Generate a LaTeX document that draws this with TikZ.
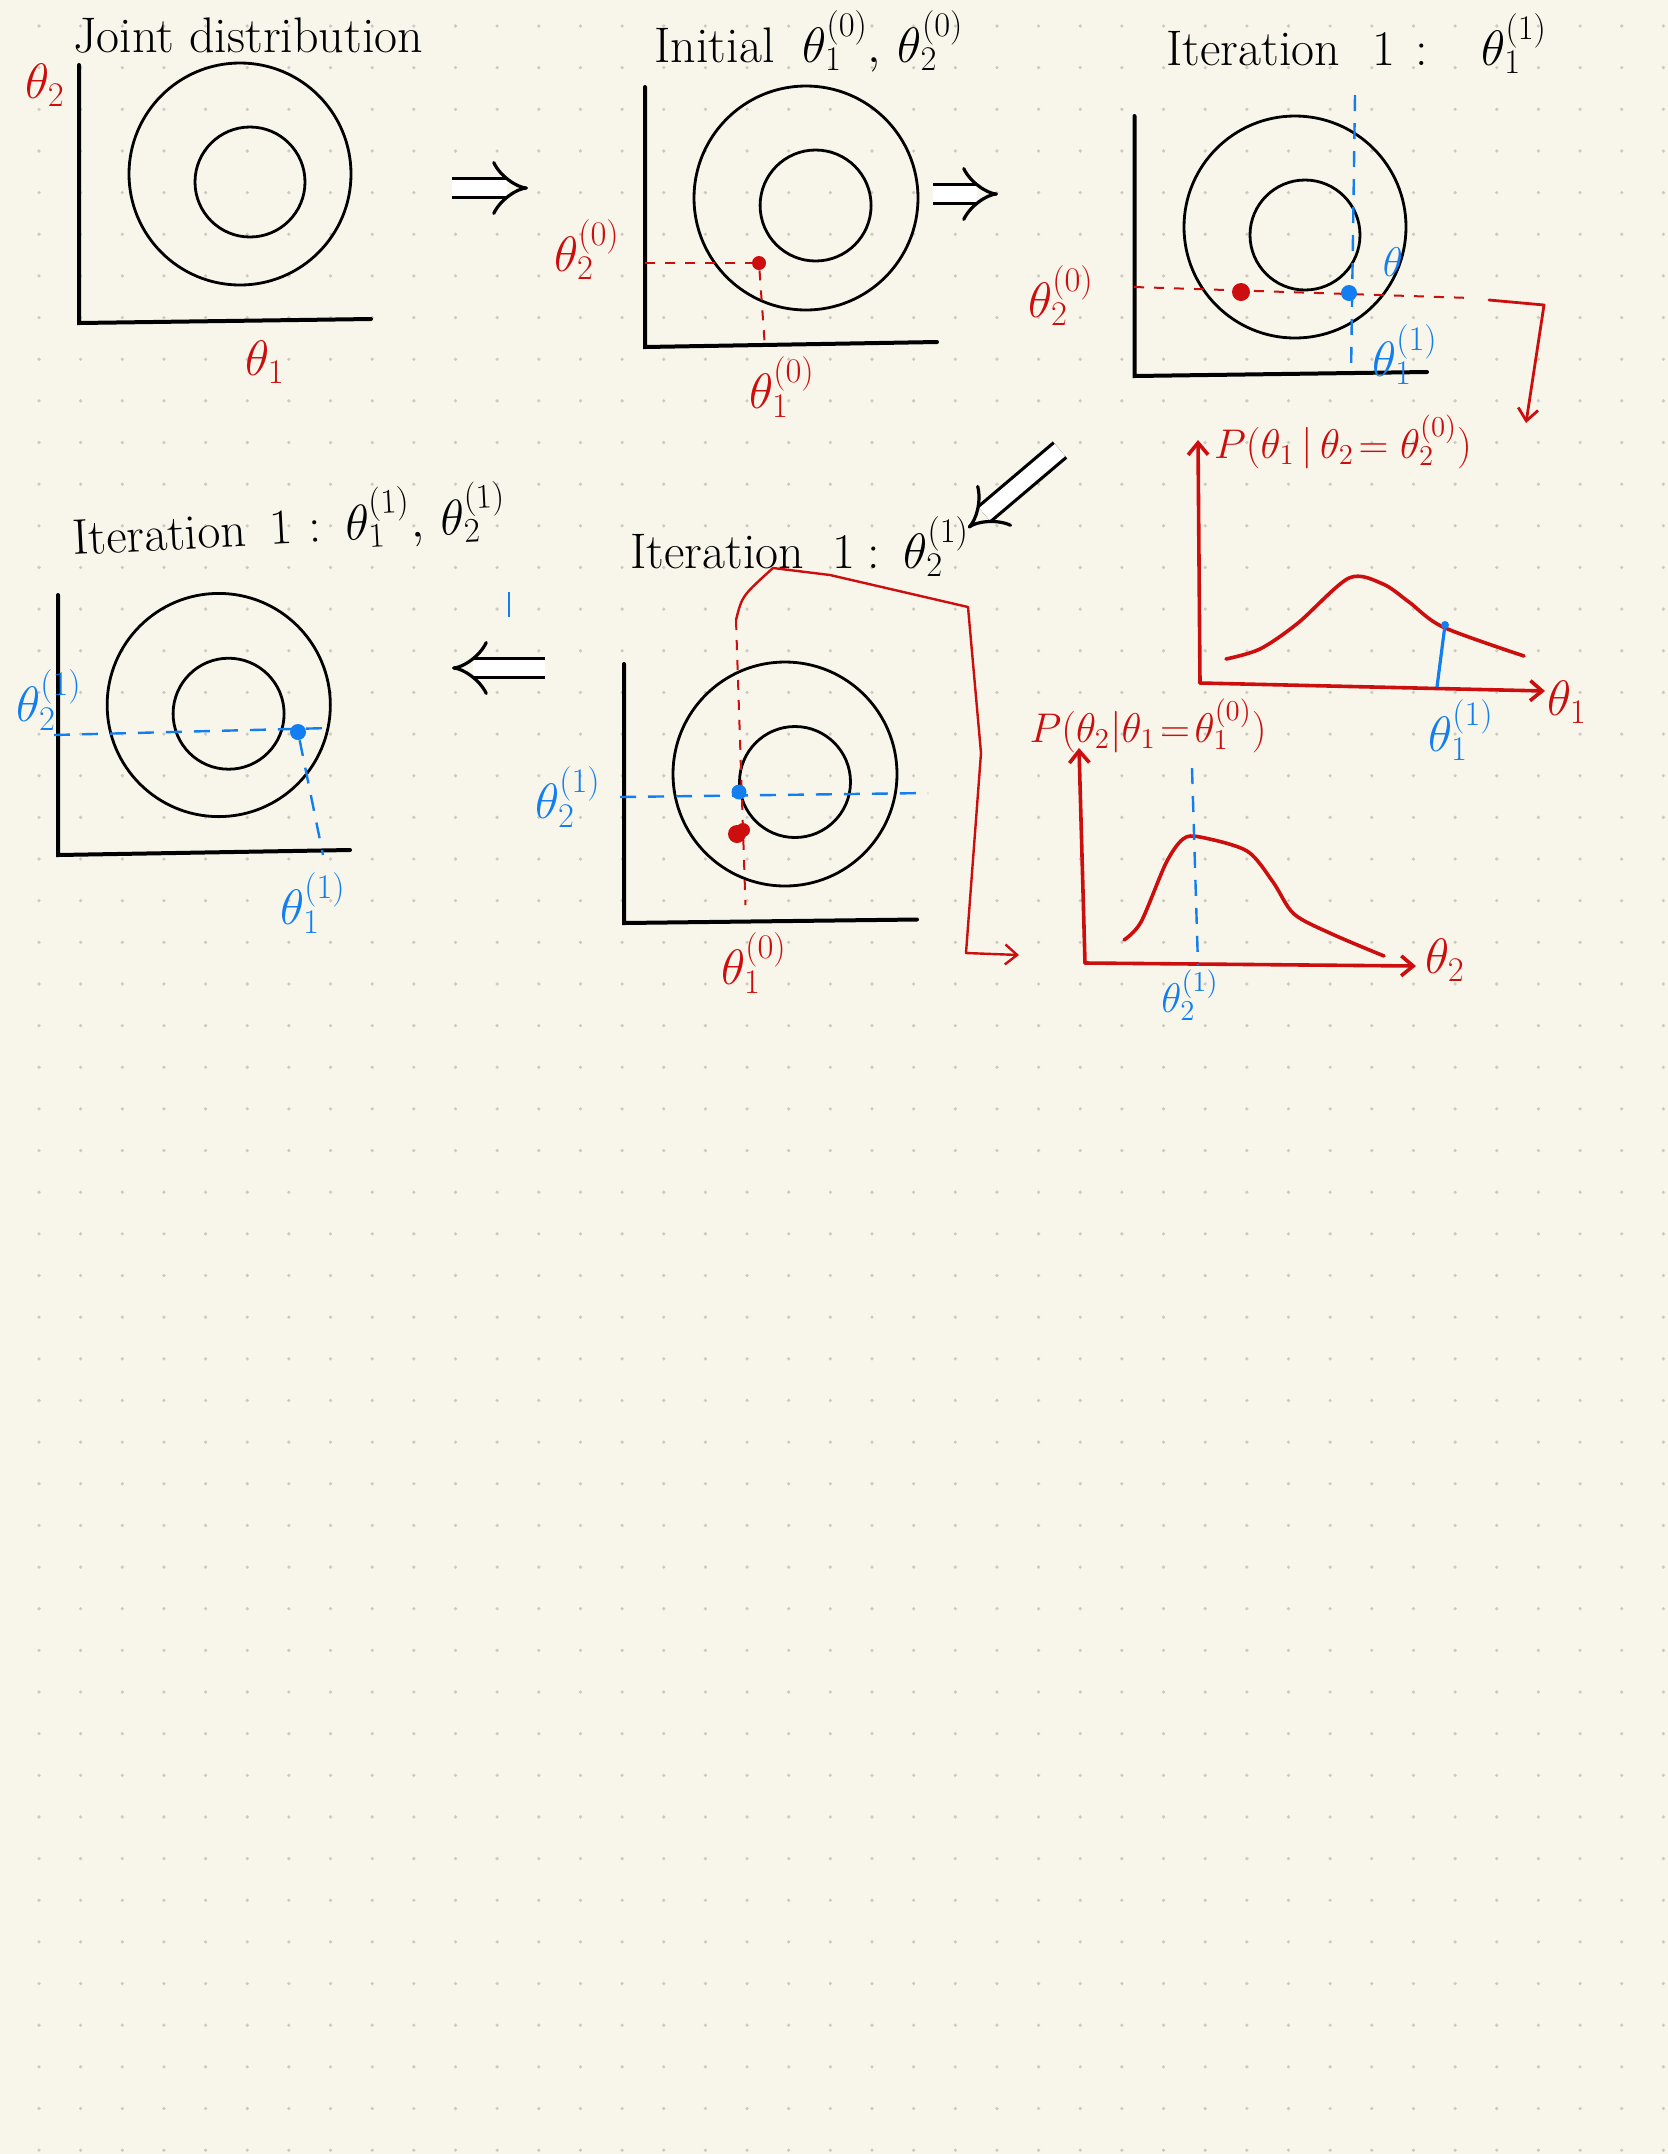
\documentclass[tikz,border=0pt]{standalone}
\usepackage{fontspec}
\usetikzlibrary{arrows.meta}
\definecolor{paper}{RGB}{248,246,234}
\definecolor{griddot}{RGB}{204,202,194}
\definecolor{redink}{RGB}{204,14,14}
\definecolor{blueink}{RGB}{18,126,240}
\begin{document}
\begin{tikzpicture}[
	x=0.5pt, y=-0.5pt,
	axisline/.style={ line width=2pt, line cap=round },
	ring/.style={ line width=1.4pt },
	reddash/.style={ redink, line width=1pt, dash pattern=on 5pt off 5pt },
	bluedash/.style={ blueink, line width=1.2pt, dash pattern=on 8pt off 6pt },
	redcurve/.style={ redink, line width=1.8pt, line cap=round, line join=round },
	barb/.style={ -{Straight Barb[length=6pt,width=10pt]} },
	bigarrow/.style={ double, line width=1.6pt, double distance=8pt, -{Implies} },
	reddot/.style={ circle, fill=redink, inner sep=0pt, minimum size=7pt },
	bluedot/.style={ circle, fill=blueink, inner sep=0pt, minimum size=8pt },
	title/.style={ anchor=base west, inner sep=0pt, font=\fontsize{25}{30}\selectfont },
	redlabel/.style={ redink, inner sep=0pt, font=\fontsize{26}{30}\selectfont },
	bluelabel/.style={ blueink, inner sep=0pt, font=\fontsize{26}{30}\selectfont }
]

\fill[paper] (0,0) rectangle (1668,2154);
\useasboundingbox (0,0) rectangle (1668,2154);
\foreach \i in {0,...,39} {
	\foreach \j in {0,...,51} {
		\fill[griddot] ({39+41.65*\i},{26+41.65*\j}) circle (0.9pt);
	}
}

% joint distribution
\node[title] (t1) at (73,52) {Joint distribution};
\coordinate (o1) at (79,323);
\coordinate (y1) at (79,65);
\coordinate (x1) at (371,319);
\draw[axisline] (y1) -- (o1) -- (x1);
\draw[ring] (240,174) circle (55.5pt);
\draw[ring] (250,182) circle (27.5pt);
\node[redlabel] (l1y) at (45,85) {$\theta_2$};
\node[redlabel] (l1x) at (265,362) {$\theta_1$};

\coordinate (a1s) at (452,188);
\coordinate (a1e) at (528,188);
\draw[bigarrow] (a1s) -- (a1e);

% initial point
\node[title] (t2) at (654,62) {Initial\hspace{14pt}$\theta_1^{(0)},\,\theta_2^{(0)}$};
\coordinate (o2) at (645,347);
\coordinate (y2) at (645,87);
\coordinate (x2) at (937,342);
\draw[axisline] (y2) -- (o2) -- (x2);
\draw[ring] (806,198) circle (56pt);
\draw[ring] (815.6,205.5) circle (27.75pt);
\node[reddot] (p2) at (759,263) {};
\coordinate (p2y) at (645,263);
\coordinate (p2x) at (765,348);
\draw[reddash] (p2y) -- (p2);
\draw[reddash] (p2) -- (p2x);
\node[redlabel] (l2y) at (587,250) {$\theta_2^{(0)}$};
\node[redlabel] (l2x) at (782,387) {$\theta_1^{(0)}$};

\coordinate (a2s) at (933,194);
\coordinate (a2e) at (998,194);
\draw[bigarrow] (a2s) -- (a2e);

% iteration 1, theta 1
\node[title] (t3) at (1166,65) {Iteration\hspace{16pt}1\hspace{10pt}:\hspace{27pt}$\theta_1^{(1)}$};
\coordinate (o3) at (1134.5,376);
\coordinate (y3) at (1134.5,116);
\coordinate (x3) at (1427,372);
\draw[axisline] (y3) -- (o3) -- (x3);
\draw[ring] (1295,227) circle (55.5pt);
\draw[ring] (1305,235) circle (27.5pt);
\coordinate (h3a) at (1134,287);
\coordinate (h3b) at (1471,298);
\draw[reddash] (h3a) -- (h3b);
\node[reddot, minimum size=9pt] (p3) at (1241,292) {};
\coordinate (v3a) at (1355,95);
\coordinate (v3b) at (1351,375);
\draw[bluedash] (v3a) -- (v3b);
\node[bluedot] (q3) at (1349,293) {};
\node[redlabel] (l3y) at (1061,296) {$\theta_2^{(0)}$};
\node[bluelabel, font=\fontsize{22}{26}\selectfont] (l3s) at (1393,262) {$\theta$};
\node[bluelabel] (l3x) at (1405,355) {$\theta_1^{(1)}$};
\coordinate (r3a) at (1489,300);
\coordinate (r3b) at (1544,305);
\coordinate (r3c) at (1526,423);
\draw[redcurve, line width=1.4pt, barb] (r3a) -- (r3b) -- (r3c);

% conditional of theta 1
\coordinate (g1o) at (1200,683);
\coordinate (g1y) at (1198,440);
\coordinate (g1x) at (1545,691);
\draw[redcurve, barb] (g1o) -- (g1y);
\draw[redcurve, barb] (g1o) -- (g1x);
\draw[redcurve] plot[smooth] coordinates {(1226,659) (1260,649) (1298,623) (1349,578) (1383,584) (1409,602) (1443,627) (1524,656)};
\node[bluedot, minimum size=4pt] (g1p) at (1445,625) {};
\coordinate (g1q) at (1437,687);
\draw[blueink, line width=1.6pt] (g1p) -- (g1q);
\node[redlabel, font=\fontsize{22}{26}\selectfont] (g1l) at (1343,442) {$P(\theta_1\,|\,\theta_2\!=\theta_2^{(0)})$};
\node[redlabel] (g1t) at (1567,702) {$\theta_1$};
\node[bluelabel] (g1s) at (1461,730) {$\theta_1^{(1)}$};

% conditional of theta 2
\coordinate (g2o) at (1085,963);
\coordinate (g2y) at (1079,748);
\coordinate (g2x) at (1416,966);
\draw[redcurve, barb] (g2o) -- (g2y);
\draw[redcurve, barb] (g2o) -- (g2x);
\draw[redcurve] plot[smooth] coordinates {(1124,940) (1141,922) (1166,863) (1183,839) (1200,837) (1247,851) (1273,882) (1294,914) (1332,934) (1384,956)};
\coordinate (g2a) at (1192,768);
\coordinate (g2b) at (1198,965);
\draw[bluedash] (g2a) -- (g2b);
\node[redlabel, font=\fontsize{20}{24}\selectfont] (g2l) at (1148,726) {$P(\theta_2|\theta_1\!=\!\theta_1^{(0)})$};
\node[redlabel] (g2t) at (1445,960) {$\theta_2$};
\node[bluelabel, font=\fontsize{22}{26}\selectfont] (g2s) at (1190,995) {$\theta_2^{(1)}$};

\coordinate (a3s) at (1060,450);
\coordinate (a3e) at (968,528);
\draw[bigarrow] (a3s) -- (a3e);

% iteration 1, theta 2
\node[title] (t4) at (630,568) {Iteration\hspace{14pt}1\hspace{6pt}:\hspace{12pt}$\theta_2^{(1)}$};
\coordinate (o4) at (624,923);
\coordinate (y4) at (624,664);
\coordinate (x4) at (917,919.5);
\draw[axisline] (y4) -- (o4) -- (x4);
\draw[ring] (785,774) circle (56pt);
\draw[ring] (795,782) circle (27.75pt);
\coordinate (v4a) at (736,620);
\coordinate (v4b) at (745.5,905);
\draw[reddash] (v4a) -- (v4b);
\fill[redink] (737,834) circle (4.5pt) (743,830) circle (3.5pt);
\coordinate (h4a) at (620,797);
\coordinate (h4b) at (928,793);
\draw[bluedash] (h4a) -- (h4b);
\node[bluedot, minimum size=7.5pt] (q4) at (739,792) {};
\node[bluelabel] (l4y) at (568,797) {$\theta_2^{(1)}$};
\node[redlabel] (l4x) at (754,963) {$\theta_1^{(0)}$};
\coordinate (r4a) at (773,568);
\coordinate (r4b) at (968,607);
\coordinate (r4c) at (981,753);
\coordinate (r4d) at (966,953);
\coordinate (r4e) at (1019,955);
\draw[redcurve, line width=1.2pt, barb] (v4a) .. controls (742,596) .. (r4a) -- (830,575) -- (r4b) -- (r4c) -- (r4d) -- (r4e);

\coordinate (a4s) at (545,668);
\coordinate (a4e) at (452,668);
\draw[bigarrow] (a4s) -- (a4e);
\coordinate (k4a) at (509,592);
\coordinate (k4b) at (509,617);
\draw[blueink, line width=1pt] (k4a) -- (k4b);

% iteration 1, both
\node[title, rotate=3] (t5) at (73,555) {Iteration\hspace{12pt}1\hspace{8pt}:\hspace{12pt}$\theta_1^{(1)},\,\theta_2^{(1)}$};
\coordinate (o5) at (58,855);
\coordinate (y5) at (58,595);
\coordinate (x5) at (350,850);
\draw[axisline] (y5) -- (o5) -- (x5);
\draw[ring] (218.75,705) circle (55.8pt);
\draw[ring] (228.6,713.7) circle (27.75pt);
\coordinate (h5a) at (54,735);
\coordinate (h5b) at (330,728);
\draw[bluedash] (h5a) -- (h5b);
\node[bluedot] (q5) at (298,732) {};
\coordinate (v5b) at (323,855);
\draw[bluedash] (q5) -- (v5b);
\node[bluelabel] (l5y) at (49,700) {$\theta_2^{(1)}$};
\node[bluelabel] (l5x) at (313,903) {$\theta_1^{(1)}$};

\end{tikzpicture}
\end{document}
